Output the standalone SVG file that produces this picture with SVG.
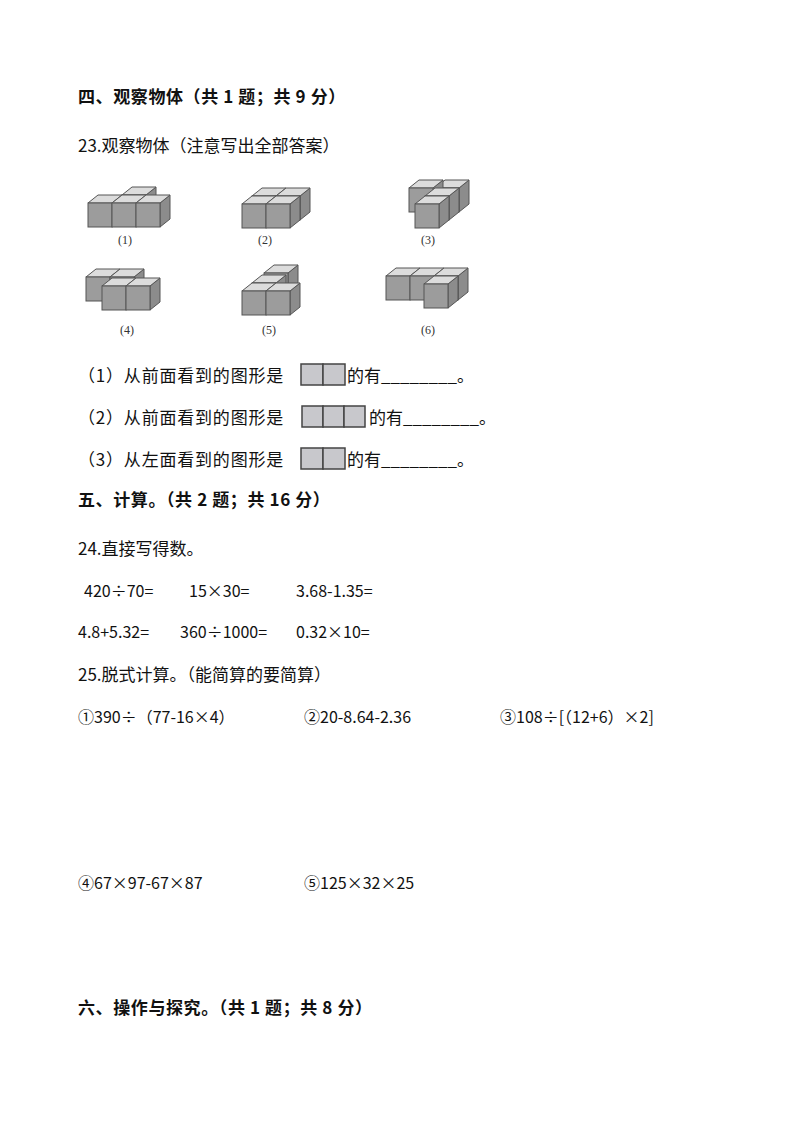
<svg xmlns="http://www.w3.org/2000/svg" width="794" height="1123" viewBox="0 0 794 1123">
<style>
text{font-family:"Noto Sans CJK SC","Liberation Sans",sans-serif;font-size:16px;fill:#111}
.h{font-weight:bold;font-size:17px;letter-spacing:0.6px}
.c{font-size:17px}
.q{font-size:17px;letter-spacing:0.8px}
.lb{font-family:"Liberation Serif","Noto Sans CJK SC",serif;font-size:12px;fill:#333}
.f{fill:#9c9c9c;stroke:#555;stroke-width:1}
.t{fill:#dcdcdc;stroke:#555;stroke-width:1}
.r{fill:#8c8c8c;stroke:#555;stroke-width:1}
.v{fill:#c8c8cc;stroke:#444;stroke-width:1.5}
</style>
<defs>
<g id="cube">
<polygon class="r" points="24,-24 34,-32 34,-8 24,0"/>
<polygon class="t" points="0,-24 24,-24 34,-32 10,-32"/>
<rect class="f" x="0" y="-24" width="24" height="24"/>
</g>
</defs>
<rect width="794" height="1123" fill="#fff"/>
<text class="h" x="78" y="103">四、观察物体（共 1 题；共 9 分）</text>
<text class="c" x="78" y="152">23.观察物体（注意写出全部答案）</text>
<g id="fig1">
<use href="#cube" x="122" y="219"/>
<use href="#cube" x="88" y="227"/><use href="#cube" x="112" y="227"/><use href="#cube" x="136" y="227"/>
<text class="lb" x="118" y="244">(1)</text>
</g>
<g id="fig2">
<use href="#cube" x="252" y="220"/><use href="#cube" x="276" y="220"/>
<use href="#cube" x="242" y="228"/><use href="#cube" x="266" y="228"/>
<text class="lb" x="258" y="244">(2)</text>
</g>
<g id="fig3">
<use href="#cube" x="435" y="212"/><use href="#cube" x="409" y="212"/>
<use href="#cube" x="425" y="220"/>
<use href="#cube" x="415" y="228"/>
<text class="lb" x="421" y="244">(3)</text>
</g>
<g id="fig4">
<use href="#cube" x="86" y="301"/><use href="#cube" x="110" y="301"/>
<use href="#cube" x="102" y="310"/><use href="#cube" x="126" y="310"/>
<text class="lb" x="120" y="334">(4)</text>
</g>
<g id="fig5">
<use href="#cube" x="264" y="297"/>
<use href="#cube" x="252" y="307"/>
<use href="#cube" x="242" y="315"/><use href="#cube" x="266" y="315"/>
<text class="lb" x="262" y="334">(5)</text>
</g>
<g id="fig6">
<use href="#cube" x="386" y="300"/><use href="#cube" x="410" y="300"/><use href="#cube" x="434" y="300"/>
<use href="#cube" x="424" y="308"/>
<text class="lb" x="421" y="334">(6)</text>
</g>
<text class="q" x="78" y="382">（1）从前面看到的图形是</text>
<rect class="v" x="301" y="364" width="22" height="21"/><rect class="v" x="323" y="364" width="22" height="21"/>
<text class="c" x="347" y="382">的有________。</text>
<text class="q" x="78" y="424">（2）从前面看到的图形是</text>
<rect class="v" x="302" y="406" width="21" height="21"/><rect class="v" x="323" y="406" width="21" height="21"/><rect class="v" x="344" y="406" width="21" height="21"/>
<text class="c" x="369" y="424">的有________。</text>
<text class="q" x="78" y="466">（3）从左面看到的图形是</text>
<rect class="v" x="301" y="448" width="22" height="21"/><rect class="v" x="323" y="448" width="22" height="21"/>
<text class="c" x="347" y="466">的有________。</text>
<text class="h" x="78" y="506">五、计算。（共 2 题；共 16 分）</text>
<text class="c" x="78" y="555">24.直接写得数。</text>
<text x="84" y="597">420÷70=</text><text x="189" y="597">15×30=</text><text x="296" y="597">3.68-1.35=</text>
<text x="78" y="638">4.8+5.32=</text><text x="180" y="638">360÷1000=</text><text x="296" y="638">0.32×10=</text>
<text class="c" x="78" y="681">25.脱式计算。（能简算的要简算）</text>
<text x="78" y="723">①390÷（77-16×4）</text>
<text x="304" y="723">②20-8.64-2.36</text>
<text x="500" y="723">③108÷[（12+6）×2]</text>
<text x="78" y="889">④67×97-67×87</text>
<text x="304" y="889">⑤125×32×25</text>
<text class="h" x="78" y="1014">六、操作与探究。（共 1 题；共 8 分）</text>
</svg>
